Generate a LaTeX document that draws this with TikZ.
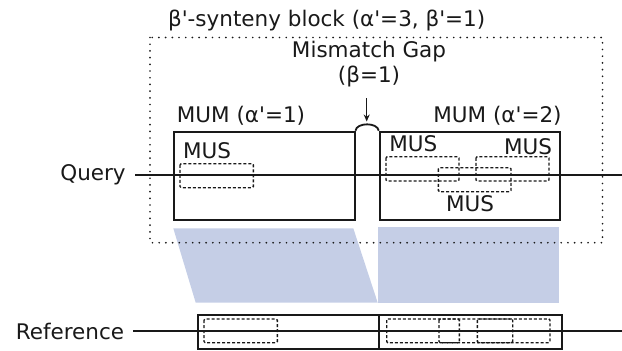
\documentclass[tikz,border=0pt]{standalone}
\usepackage{fontspec}
\setmainfont{DejaVu Sans}
\usetikzlibrary{arrows.meta}
\definecolor{matchblue}{RGB}{197,206,230}
\definecolor{ink}{RGB}{25,25,25}
\newcommand{\pr}{\textquotesingle}
\begin{document}
\begin{tikzpicture}[x=1pt,y=-1pt,
  lbl/.style={anchor=base,inner sep=0pt,text=ink,font=\fontsize{21.5}{26}\selectfont},
  mumbox/.style={draw=ink,line width=1.8pt,anchor=north west,inner sep=0pt},
  musbox/.style={draw=ink,line width=1.4pt,dash pattern=on 3pt off 2pt,rounded corners=1.2pt},
  track/.style={draw=ink,line width=1.5pt},
  block/.style={draw=ink,line width=1.9pt,line cap=round,dash pattern=on 0pt off 6.7pt},
  shade/.style={fill=matchblue}]
\useasboundingbox (0,0) rectangle (622,351);

% alignment shading between query MUMs and reference
\fill[shade] (173.3,228.3) -- (353.3,228.3) -- (377.7,302.7) -- (195.7,302.7) -- cycle;
\fill[shade] (378.3,226.5) rectangle (559.3,302.7);

% synteny block outline
\draw[block] (150,37.5) rectangle (602.5,242.7);
\node[lbl] (title) at (326.7,26) {β\pr-synteny block (α\pr=3, β\pr=1)};

% gap annotation
\node[lbl] (gap) at (369,57.5) {Mismatch Gap};
\node[lbl] (beta) at (369,82) {(β=1)};
\coordinate (arrS) at (366.7,98);
\coordinate (arrE) at (366.7,121.5);
\draw[ink,line width=1.4pt,-{Stealth[length=7pt,width=6pt]}] (arrS) -- (arrE);

% MUM boxes on the query
\node[mumbox,minimum width=180.7pt,minimum height=88pt] (mumA) at (173,130.7) {};
\node[mumbox,minimum width=180.7pt,minimum height=88pt] (mumB) at (378.7,130.7) {};
\draw[ink,line width=1.8pt] (mumA.north east) .. controls +(1,-8.5) and +(-1,-8.5) .. (mumB.north west);
\node[lbl] (mumAl) at (241,122) {MUM (α\pr=1)};
\node[lbl] (mumBl) at (497.5,122) {MUM (α\pr=2)};

% MUS boxes on the query
\draw[musbox] (180,163.7) rectangle (253.3,187.7);
\draw[musbox] (386,156.7) rectangle (459,181);
\draw[musbox] (438.3,167.7) rectangle (511,191.7);
\draw[musbox] (476,156.7) rectangle (549,181);
\node[lbl] (musA) at (207,158) {MUS};
\node[lbl] (musB) at (413.3,151.7) {MUS};
\node[lbl] (musC) at (528,154) {MUS};
\node[lbl] (musD) at (470,211.7) {MUS};

% query track
\node[lbl] (query) at (93,180) {Query};
\coordinate (qS) at (135,175);
\coordinate (qE) at (622,175);
\draw[track] (qS) -- (qE);

% reference track
\node[lbl] (ref) at (70,339) {Reference};
\coordinate (rS) at (133.3,331);
\coordinate (rE) at (622,331);
\draw[track] (rS) -- (rE);
\node[mumbox,minimum width=181.6pt,minimum height=34pt] (refA) at (196.7,314.3) {};
\node[mumbox,minimum width=182.7pt,minimum height=34pt] (refB) at (378.3,314.3) {};
\draw[musbox] (204,319) rectangle (277.3,342.7);
\draw[musbox] (386.7,319) rectangle (459.3,342.7);
\draw[musbox] (439,319) rectangle (512.7,342.7);
\draw[musbox] (477.3,319) rectangle (550,342.7);
\end{tikzpicture}
\end{document}
